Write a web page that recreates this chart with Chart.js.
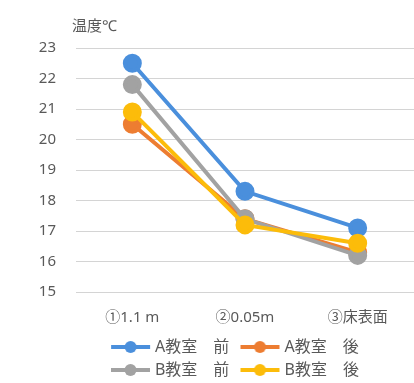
<!DOCTYPE html>
<html><head><meta charset="utf-8">
<script src="https://cdn.jsdelivr.net/npm/chart.js@4/dist/chart.umd.min.js"></script>
<style>html,body{margin:0;padding:0;background:#fff;overflow:hidden}#wrap{width:414px;height:383px;position:relative}</style>
</head><body><div id="wrap"><canvas id="c"></canvas></div>
<script>
const categories = ["①1.1 m", "②0.05m", "③床表面"];
const seriesNames = ["A教室　前", "A教室　後", "B教室　前", "B教室　後"];
const aBefore = [22.5, 18.3, 17.1];
const aAfter = [20.5, 17.4, 16.3];
const bBefore = [21.8, 17.4, 16.2];
const bAfter = [20.9, 17.2, 16.6];
const yTicks = [15, 16, 17, 18, 19, 20, 21, 22, 23];
const colors = ["#4a8fdc", "#ed7d31", "#a2a2a2", "#fcbc0a"];
const FONT = '"Noto Sans", "Noto Sans CJK JP", sans-serif';
const TXT = '#595959';

// legend marker: line with a dot; box width 36, image drawn centred on it
function legendImg(color) {
  const cv = document.createElement('canvas');
  cv.width = 48; cv.height = 14;
  const g = cv.getContext('2d');
  const off = 6; // image left = box left - 6
  g.strokeStyle = color; g.lineWidth = 4; g.lineCap = 'butt';
  g.beginPath(); g.moveTo(off, 7); g.lineTo(off + 39, 7); g.stroke();
  g.fillStyle = color; g.beginPath(); g.arc(off + 19.5, 7, 6, 0, Math.PI * 2); g.fill();
  return cv;
}

const seriesData = [aBefore, aAfter, bBefore, bAfter];
const datasets = seriesData.map((d, i) => ({
  label: seriesNames[i],
  data: d,
  borderColor: colors[i],
  backgroundColor: colors[i],
  pointBackgroundColor: colors[i],
  pointBorderColor: colors[i],
  borderWidth: 4,
  pointRadius: 7.5,
  pointHoverRadius: 7.5,
  tension: 0,
  order: 4 - i,
  pointStyle: 'circle',
  clip: false
}));

const unitTitle = {
  id: 'unitTitle',
  afterLayout(chart) {
    const lg = chart.legend;
    if (lg) { lg.left -= 8; lg.right -= 8; }
  },
  afterDraw(chart) {
    const ctx = chart.ctx;
    ctx.save();
    ctx.font = '15px ' + FONT;
    ctx.fillStyle = TXT;
    ctx.textBaseline = 'middle';
    ctx.textAlign = 'left';
    ctx.fillText('温度℃', 72, 27);
    ctx.restore();
  }
};

new Chart(document.getElementById('c'), {
  type: 'line',
  data: { labels: categories, datasets },
  plugins: [unitTitle],
  options: {
    responsive: true,
    maintainAspectRatio: false,
    animation: false,
    layout: { autoPadding: false, padding: { top: 48, left: 0, right: 0, bottom: 2 } },
    plugins: {
      tooltip: { enabled: false },
      legend: {
        position: 'bottom',
        fullSize: false,
        maxHeight: 49,
        labels: {
          usePointStyle: true,
          pointStyleWidth: 36,
          padding: 7,
          color: TXT,
          font: { size: 16, family: FONT },
          sort: (a, b) => a.datasetIndex - b.datasetIndex,
          generateLabels(chart) {
            return chart.data.datasets.map((ds, i) => ({
              text: ds.label + ' ',
              fillStyle: colors[i],
              strokeStyle: colors[i],
              lineWidth: 0,
              pointStyle: legendImg(colors[i]),
              fontColor: TXT,
              datasetIndex: i,
              hidden: false
            }));
          }
        }
      }
    },
    scales: {
      x: {
        offset: true,
        afterFit(s) { s.height = 40; },
        grid: { display: false, drawTicks: false },
        border: { display: false },
        ticks: { color: TXT, padding: 17, font: { size: 15, family: FONT } }
      },
      y: {
        min: 15, max: 23,
        afterFit(s) { s.width = 76; },
        afterBuildTicks(s) { s.ticks = yTicks.map(v => ({ value: v })); },
        grid: { color: '#d4d4d4', lineWidth: 1, drawTicks: false },
        border: { display: false },
        ticks: { color: TXT, padding: 20, font: { size: 15, family: FONT } }
      }
    }
  }
});
</script></body></html>
